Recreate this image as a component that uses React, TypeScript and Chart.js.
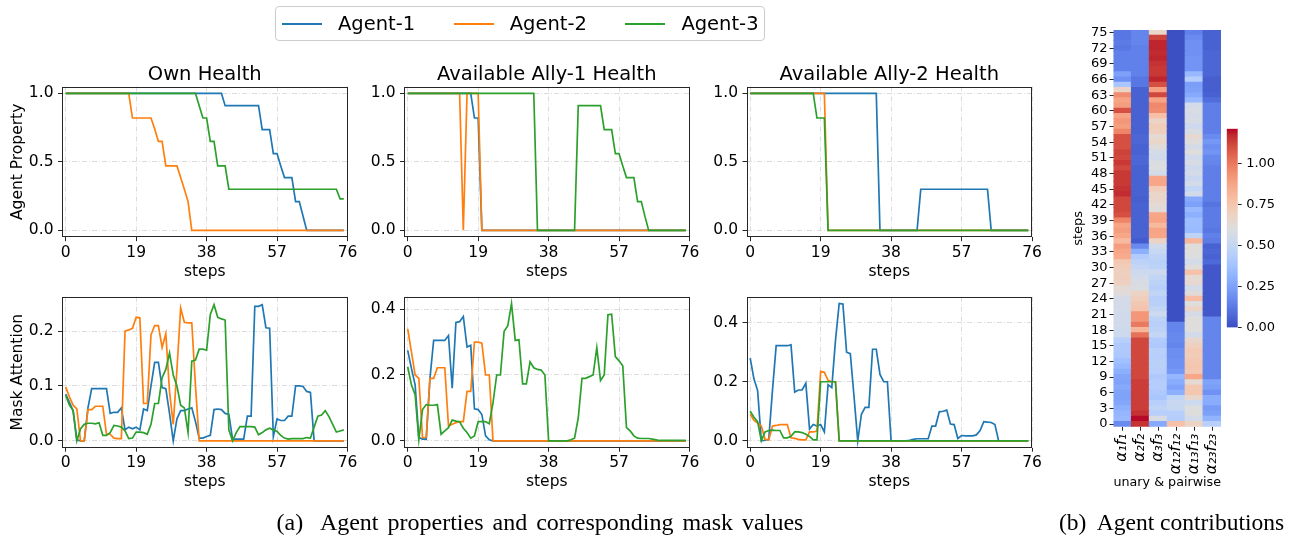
import React, { useEffect, useRef } from "react";
import { Chart, registerables } from "chart.js";

Chart.register(...registerables);
Chart.defaults.font.family = "'DejaVu Sans', sans-serif";
Chart.defaults.color = "#000";

// ---------- categories ----------
const steps = Array.from({ length: 76 }, (_, i) => i);
const xTicks = [0, 19, 38, 57, 76];
const agentNames = ["Agent-1", "Agent-2", "Agent-3"];
const agentColors = ["#1f77b4", "#ff7f0e", "#2ca02c"];

// ---------- top row: agent properties ----------
const ownHealthA1 = [1, 1, 1, 1, 1, 1, 1, 1, 1, 1, 1, 1, 1, 1, 1, 1, 1, 1, 1, 1, 1, 1, 1, 1, 1, 1, 1, 1, 1, 1, 1, 1, 1, 1, 1, 1, 1, 1, 1, 1, 1, 1, 1, 0.91, 0.91, 0.91, 0.91, 0.91, 0.91, 0.91, 0.91, 0.91, 0.91, 0.735, 0.735, 0.735, 0.56, 0.56, 0.47, 0.385, 0.385, 0.385, 0.21, 0.21, 0.105, 0, 0, 0, 0, 0, 0, 0, 0, 0, 0, 0];
const ownHealthA2 = [1, 1, 1, 1, 1, 1, 1, 1, 1, 1, 1, 1, 1, 1, 1, 1, 1, 1, 0.82, 0.82, 0.82, 0.82, 0.82, 0.82, 0.74, 0.65, 0.65, 0.47, 0.47, 0.47, 0.47, 0.385, 0.3, 0.21, 0, 0, 0, 0, 0, 0, 0, 0, 0, 0, 0, 0, 0, 0, 0, 0, 0, 0, 0, 0, 0, 0, 0, 0, 0, 0, 0, 0, 0, 0, 0, 0, 0, 0, 0, 0, 0, 0, 0, 0, 0, 0];
const ownHealthA3 = [1, 1, 1, 1, 1, 1, 1, 1, 1, 1, 1, 1, 1, 1, 1, 1, 1, 1, 1, 1, 1, 1, 1, 1, 1, 1, 1, 1, 1, 1, 1, 1, 1, 1, 1, 1, 0.91, 0.82, 0.82, 0.65, 0.65, 0.47, 0.47, 0.47, 0.3, 0.3, 0.3, 0.3, 0.3, 0.3, 0.3, 0.3, 0.3, 0.3, 0.3, 0.3, 0.3, 0.3, 0.3, 0.3, 0.3, 0.3, 0.3, 0.3, 0.3, 0.3, 0.3, 0.3, 0.3, 0.3, 0.3, 0.3, 0.3, 0.3, 0.23, 0.23];

const allyOneA1 = [1, 1, 1, 1, 1, 1, 1, 1, 1, 1, 1, 1, 1, 1, 1, 1, 1, 1, 0.82, 0.82, 0, 0, 0, 0, 0, 0, 0, 0, 0, 0, 0, 0, 0, 0, 0, 0, 0, 0, 0, 0, 0, 0, 0, 0, 0, 0, 0, 0, 0, 0, 0, 0, 0, 0, 0, 0, 0, 0, 0, 0, 0, 0, 0, 0, 0, 0, 0, 0, 0, 0, 0, 0, 0, 0, 0, 0];
const allyOneA2 = [1, 1, 1, 1, 1, 1, 1, 1, 1, 1, 1, 1, 1, 1, 1, 0, 1, 1, 1, 1, 0, 0, 0, 0, 0, 0, 0, 0, 0, 0, 0, 0, 0, 0, 0, 0, 0, 0, 0, 0, 0, 0, 0, 0, 0, 0, 0, 0, 0, 0, 0, 0, 0, 0, 0, 0, 0, 0, 0, 0, 0, 0, 0, 0, 0, 0, 0, 0, 0, 0, 0, 0, 0, 0, 0, 0];
const allyOneA3 = [1, 1, 1, 1, 1, 1, 1, 1, 1, 1, 1, 1, 1, 1, 1, 1, 1, 1, 1, 1, 1, 1, 1, 1, 1, 1, 1, 1, 1, 1, 1, 1, 1, 1, 1, 0, 0, 0, 0, 0, 0, 0, 0, 0, 0, 0, 0.91, 0.91, 0.91, 0.91, 0.91, 0.91, 0.91, 0.735, 0.735, 0.735, 0.56, 0.56, 0.47, 0.385, 0.385, 0.385, 0.21, 0.21, 0.1, 0, 0, 0, 0, 0, 0, 0, 0, 0, 0, 0];

const allyTwoA1 = [1, 1, 1, 1, 1, 1, 1, 1, 1, 1, 1, 1, 1, 1, 1, 1, 1, 1, 1, 1, 1, 1, 1, 1, 1, 1, 1, 1, 1, 1, 1, 1, 1, 1, 1, 0, 0, 0, 0, 0, 0, 0, 0, 0, 0, 0, 0.3, 0.3, 0.3, 0.3, 0.3, 0.3, 0.3, 0.3, 0.3, 0.3, 0.3, 0.3, 0.3, 0.3, 0.3, 0.3, 0.3, 0.3, 0.3, 0, 0, 0, 0, 0, 0, 0, 0, 0, 0, 0];
const allyTwoA2 = [1, 1, 1, 1, 1, 1, 1, 1, 1, 1, 1, 1, 1, 1, 1, 1, 1, 1, 1, 1, 1, 0, 0, 0, 0, 0, 0, 0, 0, 0, 0, 0, 0, 0, 0, 0, 0, 0, 0, 0, 0, 0, 0, 0, 0, 0, 0, 0, 0, 0, 0, 0, 0, 0, 0, 0, 0, 0, 0, 0, 0, 0, 0, 0, 0, 0, 0, 0, 0, 0, 0, 0, 0, 0, 0, 0];
const allyTwoA3 = [1, 1, 1, 1, 1, 1, 1, 1, 1, 1, 1, 1, 1, 1, 1, 1, 1, 1, 0.82, 0.82, 0.82, 0, 0, 0, 0, 0, 0, 0, 0, 0, 0, 0, 0, 0, 0, 0, 0, 0, 0, 0, 0, 0, 0, 0, 0, 0, 0, 0, 0, 0, 0, 0, 0, 0, 0, 0, 0, 0, 0, 0, 0, 0, 0, 0, 0, 0, 0, 0, 0, 0, 0, 0, 0, 0, 0, 0];

// ---------- bottom row: mask attention ----------
const maskOwnA1 = [0.085, 0.07, 0.055, 0.002, 0, 0, 0.06, 0.095, 0.095, 0.095, 0.095, 0.095, 0.05, 0.052, 0.052, 0.06, 0.02, 0.025, 0.022, 0.025, 0.02, 0.058, 0.055, 0.1, 0.143, 0.143, 0.097, 0.095, 0.05, 0, 0.04, 0.055, 0.055, 0.058, 0.06, 0.035, 0.005, 0.005, 0.008, 0.01, 0.057, 0.058, 0.057, 0.05, 0.048, 0.003, 0.003, 0.003, 0.003, 0.045, 0.045, 0.245, 0.245, 0.248, 0.206, 0.205, 0.008, 0.04, 0.037, 0.037, 0.045, 0.045, 0.1, 0.1, 0.099, 0.09, 0.088, 0, 0, 0, 0, 0, 0, 0, 0, 0];
const maskOwnA2 = [0.098, 0.08, 0.065, 0.058, 0, 0, 0.057, 0.057, 0.063, 0.063, 0.063, 0.012, 0.012, 0.005, 0.004, 0.004, 0.2, 0.202, 0.205, 0.225, 0.224, 0.068, 0.068, 0.193, 0.21, 0.21, 0.17, 0.195, 0.09, 0.03, 0.13, 0.242, 0.216, 0.215, 0.215, 0.1, 0, 0, 0, 0, 0, 0, 0, 0, 0, 0, 0, 0, 0, 0, 0, 0, 0, 0, 0, 0, 0, 0, 0, 0, 0, 0, 0, 0, 0, 0, 0, 0, 0, 0, 0, 0, 0, 0, 0, 0];
const maskOwnA3 = [0.083, 0.065, 0.055, 0, 0.022, 0.03, 0.032, 0.032, 0.031, 0.033, 0.01, 0.01, 0.015, 0.028, 0.027, 0.025, 0.018, 0.004, 0.005, 0.016, 0.016, 0.015, 0.012, 0.03, 0.068, 0.068, 0.115, 0.13, 0.16, 0.12, 0.1, 0.065, 0.06, 0.015, 0.145, 0.147, 0.167, 0.167, 0.165, 0.23, 0.248, 0.225, 0.222, 0.22, 0.02, 0, 0.015, 0.026, 0.026, 0.026, 0.026, 0.025, 0.011, 0.015, 0.02, 0.023, 0.02, 0.017, 0.01, 0.005, 0.003, 0.004, 0.004, 0.004, 0.004, 0.006, 0.005, 0.025, 0.045, 0.047, 0.055, 0.044, 0.03, 0.016, 0.018, 0.02];

const maskAllyOneA1 = [0.275, 0.22, 0.17, 0.01, 0.005, 0.005, 0.19, 0.305, 0.305, 0.305, 0.305, 0.32, 0.16, 0.36, 0.362, 0.378, 0.285, 0.29, 0.097, 0.095, 0.08, 0.015, 0.003, 0, 0, 0, 0, 0, 0, 0, 0, 0, 0, 0, 0, 0, 0, 0, 0, 0, 0, 0, 0, 0, 0, 0, 0, 0, 0, 0, 0, 0, 0, 0, 0, 0, 0, 0, 0, 0, 0, 0, 0, 0, 0, 0, 0, 0, 0, 0, 0, 0, 0, 0, 0, 0];
const maskAllyOneA2 = [0.34, 0.27, 0.2, 0.19, 0.01, 0.01, 0.19, 0.19, 0.222, 0.222, 0.222, 0.045, 0.05, 0.055, 0.058, 0.058, 0.15, 0.15, 0.3, 0.3, 0.297, 0.2, 0.2, 0, 0, 0, 0, 0, 0, 0, 0, 0, 0, 0, 0, 0, 0, 0, 0, 0, 0, 0, 0, 0, 0, 0, 0, 0, 0, 0, 0, 0, 0, 0, 0, 0, 0, 0, 0, 0, 0, 0, 0, 0, 0, 0, 0, 0, 0, 0, 0, 0, 0, 0, 0, 0];
const maskAllyOneA3 = [0.225, 0.17, 0.14, 0.003, 0.095, 0.11, 0.108, 0.108, 0.11, 0.02, 0.03, 0.04, 0.063, 0.06, 0.058, 0.038, 0.025, 0.008, 0.015, 0.058, 0.058, 0.058, 0.052, 0.115, 0.2, 0.2, 0.333, 0.35, 0.417, 0.305, 0.307, 0.173, 0.173, 0.24, 0.222, 0.217, 0.215, 0.2, 0, 0, 0, 0, 0, 0, 0.003, 0.008, 0.07, 0.19, 0.19, 0.195, 0.2, 0.283, 0.183, 0.2, 0.383, 0.385, 0.256, 0.243, 0.228, 0.04, 0.03, 0.015, 0.008, 0.007, 0.007, 0.007, 0.005, 0.003, 0.001, 0.001, 0.001, 0.001, 0.001, 0.001, 0.001, 0.001];

const maskAllyTwoA1 = [0.28, 0.21, 0.17, 0, 0.002, 0.005, 0.17, 0.322, 0.322, 0.322, 0.322, 0.325, 0.165, 0.172, 0.172, 0.195, 0.04, 0.055, 0.05, 0.055, 0.03, 0.19, 0.18, 0.34, 0.465, 0.463, 0.3, 0.295, 0.15, 0, 0.09, 0.113, 0.113, 0.31, 0.31, 0.225, 0.2, 0.2, 0, 0, 0, 0, 0, 0.002, 0.005, 0.007, 0.007, 0.007, 0.007, 0.05, 0.05, 0.098, 0.1, 0.104, 0.057, 0.055, 0.008, 0.018, 0.017, 0.017, 0.017, 0.02, 0.035, 0.065, 0.063, 0.062, 0.055, 0, 0, 0, 0, 0, 0, 0, 0, 0];
const maskAllyTwoA2 = [0.09, 0.07, 0.06, 0.05, 0.005, 0.003, 0.05, 0.052, 0.055, 0.055, 0.055, 0.01, 0.008, 0.005, 0.003, 0.003, 0.03, 0.03, 0.033, 0.235, 0.232, 0.205, 0.2, 0.2, 0, 0, 0, 0, 0, 0, 0, 0, 0, 0, 0, 0, 0, 0, 0, 0, 0, 0, 0, 0, 0, 0, 0, 0, 0, 0, 0, 0, 0, 0, 0, 0, 0, 0, 0, 0, 0, 0, 0, 0, 0, 0, 0, 0, 0, 0, 0, 0, 0, 0, 0, 0];
const maskAllyTwoA3 = [0.1, 0.08, 0.065, 0, 0.03, 0.035, 0.036, 0.035, 0.035, 0.01, 0.01, 0.015, 0.03, 0.03, 0.028, 0.022, 0.015, 0.003, 0.003, 0.2, 0.2, 0.2, 0.2, 0.2, 0, 0, 0, 0, 0, 0, 0, 0, 0, 0, 0, 0, 0, 0, 0, 0, 0, 0, 0, 0, 0, 0, 0, 0, 0, 0, 0, 0, 0, 0, 0, 0, 0, 0, 0, 0, 0, 0, 0, 0, 0, 0, 0, 0, 0, 0, 0, 0, 0, 0, 0, 0];

// ---------- heatmap: agent contributions (step 0 .. 75) ----------
const contribA1F1 = [0.18, 0.34, 0.33, 0.3, 0.27, 0.26, 0.26, 0.28, 0.26, 0.27, 0.3, 0.34, 0.37, 0.41, 0.42, 0.42, 0.45, 0.53, 0.54, 0.55, 0.55, 0.55, 0.56, 0.56, 0.57, 0.62, 0.64, 0.7, 0.71, 0.7, 0.72, 0.74, 0.86, 0.87, 0.9, 0.8, 0.87, 0.9, 0.88, 0.97, 1.1, 1.12, 1.12, 1.12, 1.17, 1.16, 1.15, 1.15, 1.15, 1.12, 1.15, 1.12, 1.13, 1.1, 1.1, 1.1, 0.97, 0.9, 0.92, 0.88, 1.1, 0.9, 0.88, 0.95, 0.68, 0.4, 0.2, 0.25, 0.15, 0.15, 0.15, 0.15, 0.12, 0.13, 0.12, 0.12];
const contribA2F2 = [1.16, 1.21, 1.16, 1.14, 1.14, 1.14, 1.14, 1.14, 1.14, 1.12, 1.12, 1.12, 1.12, 1.12, 1.12, 1.12, 1.12, 1.02, 0.82, 1.0, 0.92, 0.92, 0.76, 0.74, 0.71, 0.68, 0.59, 0.58, 0.56, 0.53, 0.5, 0.47, 0.43, 0.3, 0.18, 0.04, 0.06, 0.06, 0.06, 0.06, 0.06, 0.06, 0.06, 0.05, 0.06, 0.06, 0.06, 0.06, 0.06, 0.06, 0.07, 0.07, 0.06, 0.06, 0.07, 0.07, 0.06, 0.06, 0.06, 0.06, 0.06, 0.06, 0.06, 0.06, 0.06, 0.12, 0.12, 0.15, 0.15, 0.15, 0.15, 0.15, 0.15, 0.16, 0.16, 0.16];
const contribA3F3 = [0.28, 0.58, 0.45, 0.48, 0.45, 0.4, 0.42, 0.44, 0.44, 0.42, 0.45, 0.46, 0.46, 0.45, 0.46, 0.42, 0.43, 0.5, 0.47, 0.45, 0.47, 0.53, 0.49, 0.46, 0.45, 0.49, 0.45, 0.47, 0.49, 0.53, 0.47, 0.46, 0.48, 0.51, 0.55, 0.68, 0.87, 0.88, 0.8, 0.88, 0.87, 0.62, 0.64, 0.66, 0.67, 0.72, 0.87, 0.87, 0.56, 0.6, 0.59, 0.55, 0.56, 0.62, 0.67, 0.64, 0.71, 0.72, 0.68, 0.78, 0.95, 0.96, 0.88, 1.12, 0.89, 1.1, 1.18, 1.15, 1.15, 1.16, 1.18, 1.17, 1.18, 1.18, 1.13, 0.67];
const contribA12F12 = [0.77, 0.44, 0.45, 0.51, 0.52, 0.49, 0.3, 0.26, 0.29, 0.33, 0.22, 0.2, 0.2, 0.19, 0.19, 0.16, 0.17, 0.17, 0.16, 0.16, 0.01, 0.01, 0.01, 0.01, 0.01, 0.01, 0.01, 0.01, 0.01, 0.01, 0.01, 0.01, 0.01, 0.01, 0.01, 0.01, 0.01, 0.01, 0.01, 0.01, 0.01, 0.01, 0.01, 0.01, 0.01, 0.01, 0.01, 0.01, 0.01, 0.01, 0.01, 0.01, 0.01, 0.01, 0.01, 0.01, 0.01, 0.01, 0.01, 0.01, 0.01, 0.01, 0.01, 0.01, 0.01, 0.01, 0.01, 0.01, 0.01, 0.01, 0.01, 0.01, 0.01, 0.01, 0.01, 0.01];
const contribA13F13 = [0.68, 0.56, 0.61, 0.6, 0.53, 0.66, 0.75, 0.74, 0.64, 0.87, 0.74, 0.75, 0.74, 0.72, 0.73, 0.7, 0.66, 0.55, 0.61, 0.61, 0.61, 0.57, 0.68, 0.61, 0.79, 0.62, 0.56, 0.65, 0.64, 0.77, 0.61, 0.56, 0.6, 0.61, 0.61, 0.82, 0.48, 0.35, 0.36, 0.36, 0.3, 0.34, 0.25, 0.28, 0.55, 0.49, 0.56, 0.52, 0.56, 0.54, 0.58, 0.55, 0.61, 0.57, 0.61, 0.65, 0.58, 0.53, 0.58, 0.57, 0.58, 0.56, 0.34, 0.28, 0.25, 0.24, 0.44, 0.34, 0.21, 0.21, 0.21, 0.2, 0.2, 0.2, 0.18, 0.15];
const contribA23F23 = [0.45, 0.32, 0.25, 0.23, 0.29, 0.29, 0.2, 0.24, 0.26, 0.16, 0.16, 0.16, 0.16, 0.16, 0.16, 0.16, 0.16, 0.16, 0.16, 0.16, 0.16, 0.03, 0.03, 0.03, 0.03, 0.03, 0.03, 0.03, 0.03, 0.03, 0.03, 0.08, 0.06, 0.07, 0.06, 0.13, 0.15, 0.12, 0.13, 0.13, 0.13, 0.13, 0.11, 0.14, 0.14, 0.14, 0.14, 0.14, 0.14, 0.14, 0.16, 0.17, 0.21, 0.19, 0.22, 0.18, 0.14, 0.14, 0.14, 0.14, 0.14, 0.14, 0.09, 0.06, 0.05, 0.05, 0.05, 0.07, 0.07, 0.07, 0.07, 0.07, 0.06, 0.06, 0.06, 0.06];
const heatLabels = ["α₁f₁", "α₂f₂", "α₃f₃", "α₁₂f₁₂", "α₁₃f₁₃", "α₂₃f₂₃"];
const heatTickSteps = [0, 3, 6, 9, 12, 15, 18, 21, 24, 27, 30, 33, 36, 39, 42, 45, 48, 51, 54, 57, 60, 63, 66, 69, 72, 75];
const cbarTicks = [0, 0.25, 0.5, 0.75, 1.0];
const CBAR_MAX = 1.215;

// ---------- styling / layout ----------
const CW = 1297;
const CH = 539;
const TITLE_SIZE = 19.5;
const TICK_SIZE = 15.5;
const LABEL_SIZE = 15.5;
const Y_AXIS_W = 62;
const X_AXIS_H = 44;

const coolwarmStops = [
  [59, 76, 192], [68, 90, 204], [77, 104, 215], [87, 117, 225], [98, 130, 234], [108, 142, 241], [119, 154, 247], [130, 165, 251],
  [141, 176, 254], [152, 185, 255], [163, 194, 255], [174, 201, 253], [184, 208, 249], [194, 213, 244], [204, 217, 238], [213, 219, 230],
  [221, 221, 221], [229, 216, 209], [236, 211, 197], [241, 204, 185], [245, 196, 173], [247, 187, 160], [247, 177, 148], [247, 166, 135],
  [244, 154, 123], [241, 141, 111], [236, 127, 99], [229, 112, 88], [222, 96, 77], [213, 80, 66], [203, 62, 56], [192, 40, 47], [180, 4, 38],
];
function coolwarm(t: number): string {
  const u = Math.max(0, Math.min(1, t)) * (coolwarmStops.length - 1);
  const i = Math.min(Math.floor(u), coolwarmStops.length - 2);
  const f = u - i;
  const a = coolwarmStops[i];
  const b = coolwarmStops[i + 1];
  const c = a.map((v, k) => Math.round(v + (b[k] - v) * f));
  return `rgb(${c[0]},${c[1]},${c[2]})`;
}

const framePlugin = {
  id: "frame",
  afterDraw(chart: any) {
    const a = chart.chartArea;
    const ctx = chart.ctx;
    ctx.save();
    ctx.strokeStyle = "#262626";
    ctx.lineWidth = 1;
    const l = Math.round(a.left) + 0.5;
    const t = Math.round(a.top) + 0.5;
    const r = Math.round(a.right) - 0.5;
    const b = Math.round(a.bottom) - 0.5;
    ctx.strokeRect(l, t, r - l, b - t);
    ctx.restore();
  },
};

type Panel = {
  title?: string;
  yLabel?: string;
  series: number[][];
  area: number[];
  yMin: number;
  yMax: number;
  yTicks: number[];
};

const panels: Panel[] = [
  { title: "Own Health", yLabel: "Agent Property", series: [ownHealthA1, ownHealthA2, ownHealthA3], area: [62, 86.5, 347.5, 237.2], yMin: -0.05, yMax: 1.05, yTicks: [0, 0.5, 1] },
  { title: "Available Ally-1 Health", series: [allyOneA1, allyOneA2, allyOneA3], area: [404, 86.5, 689.5, 237.2], yMin: -0.05, yMax: 1.05, yTicks: [0, 0.5, 1] },
  { title: "Available Ally-2 Health", series: [allyTwoA1, allyTwoA2, allyTwoA3], area: [746.5, 86.5, 1032, 237.2], yMin: -0.05, yMax: 1.05, yTicks: [0, 0.5, 1] },
  { yLabel: "Mask Attention", series: [maskOwnA1, maskOwnA2, maskOwnA3], area: [62, 296.7, 347.5, 447.7], yMin: -0.0125, yMax: 0.2625, yTicks: [0, 0.1, 0.2] },
  { series: [maskAllyOneA1, maskAllyOneA2, maskAllyOneA3], area: [404, 296.7, 689.5, 447.7], yMin: -0.021, yMax: 0.438, yTicks: [0, 0.2, 0.4] },
  { series: [maskAllyTwoA1, maskAllyTwoA2, maskAllyTwoA3], area: [746.5, 296.7, 1032, 447.7], yMin: -0.0233, yMax: 0.488, yTicks: [0, 0.2, 0.4] },
];

const gridOpts = {
  color: "#dcdcdc",
  lineWidth: 1,
  drawTicks: true,
  tickLength: 4,
  tickColor: "#262626",
  tickWidth: 1,
  tickBorderDash: [],
};

function lineConfig(p: Panel): any {
  const [left, top, right, bottom] = p.area;
  const titleH = p.title ? TITLE_SIZE * 1.2 : 0;
  return {
    type: "line",
    data: {
      datasets: p.series.map((vals, k) => ({
        label: agentNames[k],
        data: vals.map((v, i) => ({ x: steps[i], y: v })),
        borderColor: agentColors[k],
        backgroundColor: agentColors[k],
        borderWidth: 1.7,
        pointRadius: 0,
        tension: 0,
        fill: false,
        order: p.series.length - k,
      })),
    },
    options: {
      responsive: false,
      animation: false,
      events: [],
      layout: { padding: { left: left - Y_AXIS_W, top: top - titleH, right: CW - right, bottom: CH - bottom - X_AXIS_H } },
      plugins: {
        legend: { display: false },
        tooltip: { enabled: false },
        title: { display: !!p.title, text: p.title || "", fullSize: false, color: "#000", font: { size: TITLE_SIZE, weight: "normal" }, padding: 0 },
      },
      scales: {
        x: {
          type: "linear",
          min: -1,
          max: 76,
          afterBuildTicks: (s: any) => { s.ticks = xTicks.map((v) => ({ value: v })); },
          afterFit: (s: any) => { s.height = X_AXIS_H; s.paddingLeft = 0; s.paddingRight = 0; },
          ticks: { color: "#000", font: { size: TICK_SIZE }, padding: 2, maxRotation: 0, autoSkip: false, callback: (v: any) => String(v) },
          grid: gridOpts,
          border: { display: false, dash: [5, 2, 1, 2] },
          title: { display: true, text: "steps", color: "#000", font: { size: LABEL_SIZE }, padding: { top: 0, bottom: 0 } },
        },
        y: {
          type: "linear",
          min: p.yMin,
          max: p.yMax,
          afterBuildTicks: (s: any) => { s.ticks = p.yTicks.map((v) => ({ value: v })); },
          afterFit: (s: any) => { s.width = Y_AXIS_W; s.paddingTop = 0; s.paddingBottom = 0; },
          ticks: { color: "#000", font: { size: TICK_SIZE }, padding: 4.5, autoSkip: false, callback: (v: any) => Number(v).toFixed(1) },
          grid: gridOpts,
          border: { display: false, dash: [5, 2, 1, 2] },
          title: { display: !!p.yLabel, text: p.yLabel || "", color: "#000", font: { size: LABEL_SIZE }, padding: { top: 9, bottom: 0 } },
        },
      },
    },
    plugins: [framePlugin],
  };
}

const heatColumns = [contribA1F1, contribA2F2, contribA3F3, contribA12F12, contribA13F13, contribA23F23];
const HM = { left: 1113.5, top: 30, right: 1221, bottom: 426.7 };
const HM_PAD_LEFT = 1068;
const HM_X_H = 64;

function heatConfig(): any {
  return {
    type: "bar",
    data: {
      labels: heatLabels,
      datasets: steps.map((s) => ({
        label: "step " + s,
        data: heatColumns.map(() => [s, s + 1]),
        backgroundColor: heatColumns.map((col) => coolwarm(col[s] / CBAR_MAX)),
        borderWidth: 0,
        barPercentage: 1,
        categoryPercentage: 1,
        grouped: false,
        inflateAmount: 0.5,
      })),
    },
    options: {
      responsive: false,
      animation: false,
      events: [],
      layout: { padding: { left: HM_PAD_LEFT, top: HM.top, right: CW - HM.right, bottom: CH - HM.bottom - HM_X_H } },
      plugins: { legend: { display: false }, tooltip: { enabled: false } },
      scales: {
        x: {
          type: "category",
          offset: true,
          afterFit: (s: any) => { s.height = HM_X_H; s.paddingLeft = 0; s.paddingRight = 0; },
          grid: { display: true, drawOnChartArea: false, drawTicks: true, tickLength: 4, tickColor: "#262626", offset: false },
          border: { display: false },
          ticks: { color: "#000", font: { size: 15.5, style: "italic" }, minRotation: 90, maxRotation: 90, padding: 3, autoSkip: false },
          title: { display: true, text: "unary & pairwise", color: "#000", font: { size: 13 }, padding: { top: 0, bottom: 0 } },
        },
        y: {
          type: "linear",
          min: 0,
          max: 76,
          afterBuildTicks: (s: any) => { s.ticks = heatTickSteps.map((v) => ({ value: v + 0.5 })); },
          afterFit: (s: any) => { s.width = HM.left - HM_PAD_LEFT; s.paddingTop = 0; s.paddingBottom = 0; },
          grid: { display: true, drawOnChartArea: false, drawTicks: true, tickLength: 4, tickColor: "#262626" },
          border: { display: false },
          ticks: { color: "#000", font: { size: 13 }, padding: 2, autoSkip: false, callback: (_v: any, i: number) => String(heatTickSteps[i]) },
          title: { display: true, text: "steps", color: "#000", font: { size: 13 }, padding: { top: 3, bottom: 0 } },
        },
      },
    },
  };
}

const CB = { left: 1226.7, top: 128.7, right: 1237.7, bottom: 327.7 };
const CB_Y_W = 45;

function cbarConfig(): any {
  return {
    type: "bar",
    data: {
      labels: ["colorbar"],
      datasets: [
        {
          label: "scale",
          data: [[0, CBAR_MAX]],
          backgroundColor: (ctx: any) => {
            const chart = ctx.chart;
            const a = chart.chartArea;
            if (!a) return "#ddd";
            const g = chart.ctx.createLinearGradient(0, a.bottom, 0, a.top);
            for (let i = 0; i < coolwarmStops.length; i++) {
              const t = i / (coolwarmStops.length - 1);
              g.addColorStop(t, coolwarm(t));
            }
            return g;
          },
          borderWidth: 0,
          barPercentage: 1,
          categoryPercentage: 1,
        },
      ],
    },
    options: {
      responsive: false,
      animation: false,
      events: [],
      layout: { padding: { left: CB.left, top: CB.top, right: CW - CB.right - CB_Y_W, bottom: CH - CB.bottom } },
      plugins: { legend: { display: false }, tooltip: { enabled: false } },
      scales: {
        x: { display: false },
        y: {
          position: "right",
          min: 0,
          max: CBAR_MAX,
          afterBuildTicks: (s: any) => { s.ticks = cbarTicks.map((v) => ({ value: v })); },
          afterFit: (s: any) => { s.width = CB_Y_W; s.paddingTop = 0; s.paddingBottom = 0; },
          grid: { display: true, drawOnChartArea: false, drawTicks: true, tickLength: 4, tickColor: "#262626" },
          border: { display: false },
          ticks: { color: "#000", font: { size: 13 }, padding: 4.5, autoSkip: false, callback: (v: any) => Number(v).toFixed(2) },
        },
      },
    },
  };
}

const configs: (() => any)[] = [...panels.map((p) => () => lineConfig(p)), heatConfig, cbarConfig];

const captionStyle: any = {
  position: "absolute",
  top: 510,
  textAlign: "center",
  fontFamily: "'Liberation Serif', serif",
  fontSize: 23.5,
  lineHeight: "24px",
  color: "#000",
  whiteSpace: "pre",
};

export default function App() {
  const refs = useRef<(HTMLCanvasElement | null)[]>([]);
  useEffect(() => {
    const charts = configs.map((make, i) => new Chart(refs.current[i] as HTMLCanvasElement, make()));
    return () => charts.forEach((c) => c.destroy());
  }, []);

  return (
    <div style={{ position: "absolute", left: 0, top: 0, width: CW, height: CH, background: "#fff", overflow: "hidden" }}>
      {configs.map((_, i) => (
        <canvas
          key={i}
          ref={(el) => { refs.current[i] = el; }}
          width={CW}
          height={CH}
          style={{ position: "absolute", left: 0, top: 0, width: CW, height: CH }}
        />
      ))}
      <div
        style={{
          position: "absolute", left: 275, top: 6, width: 490, height: 35, boxSizing: "border-box",
          border: "1px solid #cccccc", borderRadius: 4, background: "#fff",
          fontFamily: "'DejaVu Sans', sans-serif", fontSize: 19.5, color: "#000",
        }}
      >
        {agentNames.map((name, k) => (
          <div key={name} style={{ position: "absolute", left: 6 + k * 171.7, top: 0, height: 33, display: "flex", alignItems: "center" }}>
            <span style={{ display: "inline-block", width: 40, height: 0, borderTop: `2px solid ${agentColors[k]}`, marginRight: 16 }} />
            <span style={{ lineHeight: "20px" }}>{name}</span>
          </div>
        ))}
      </div>
      <div style={{ ...captionStyle, left: 40, width: 1000, fontSize: 24, wordSpacing: 3 }}>
        {"(a)  Agent properties and corresponding mask values"}
      </div>
      <div style={{ ...captionStyle, left: 1030, width: 283 }}>
        {"(b)  Agent contributions"}
      </div>
    </div>
  );
}
